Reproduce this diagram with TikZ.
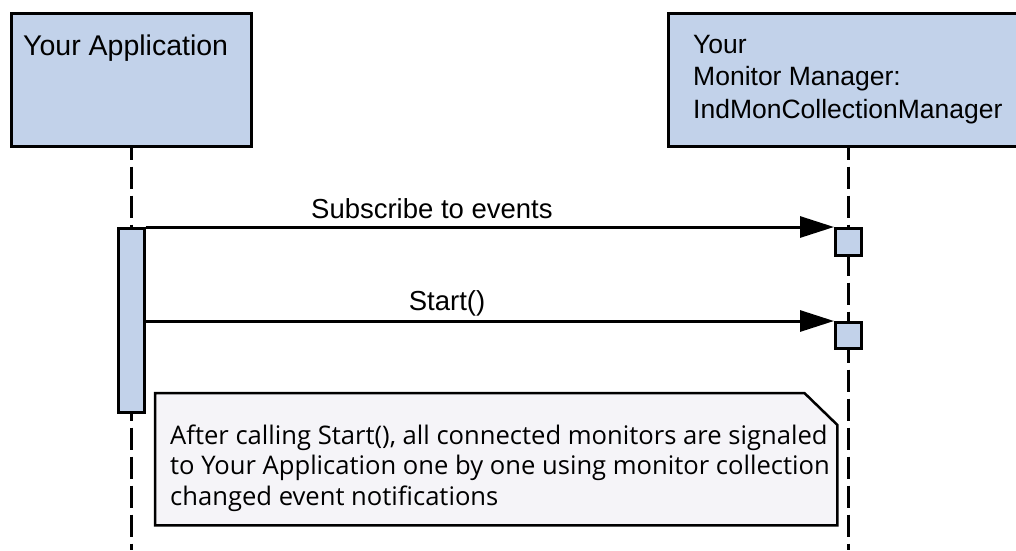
\documentclass[tikz,border=0pt]{standalone}
\usepackage{fontspec}
\setmainfont{Liberation Sans}
\newfontfamily\notefont{Open Sans}
\usetikzlibrary{arrows.meta,positioning,backgrounds}
\definecolor{headblue}{HTML}{C2D2EA}
\definecolor{notegray}{HTML}{F5F4F8}

\begin{document}
\begin{tikzpicture}[x=1pt, y=-1pt,
    head/.style={draw, line width=2.5pt, fill=headblue, rectangle, anchor=north west, inner sep=0pt},
    bar/.style={draw, line width=2.5pt, fill=headblue, rectangle, inner sep=0pt, minimum width=26pt, anchor=north},
    lifeline/.style={line width=3pt, dash pattern=on 22pt off 7pt, dash phase=10pt},
    msg/.style={line width=3pt, -{Triangle[length=34pt,width=21pt]}},
    lbl/.style={font=\fontsize{27.5}{32.5}\selectfont, inner sep=0pt, align=left}]
    \useasboundingbox (0,0) rectangle (1016,550);

    % lifeline heads
    \node[head, minimum width=240pt, minimum height=133pt] (app) at (10,12) {};
    \node[head, minimum width=360pt, minimum height=133pt] (mgr) at (667,12) {};
    \node[lbl, anchor=base west, font=\fontsize{28.5}{32.5}\selectfont] (applbl) at ([shift={(13,43)}]app.north west) {Your Application};
    \node[lbl, anchor=base west, font=\fontsize{26.5}{32.5}\selectfont] (mgrlbl) at ([shift={(26,106)}]mgr.north west) {Your\\Monitor Manager:\\IndMonCollectionManager};

    % message rows
    \coordinate (row1) at (0,227);
    \coordinate (row2) at (0,321);
    \coordinate (bottom) at (0,550);

    % lifelines
    \draw[lifeline] (app.south) -- (app.south |- bottom);
    \draw[lifeline] (mgr.south) -- (mgr.south |- bottom);

    % activations
    \node[bar, minimum height=184pt] (appact) at (app.south |- row1) {};
    \node[bar, minimum height=27pt] (mgrsub) at (mgr.south |- row1) {};
    \node[bar, minimum height=26pt] (mgrstart) at (mgr.south |- row2) {};

    % messages
    \draw[msg] (appact.north east) -- node[lbl, pos=0.416, anchor=base, yshift=9pt] {Subscribe to events} (mgrsub.north west);
    \draw[msg] (appact.east |- row2) -- node[lbl, pos=0.438, anchor=base, yshift=11pt] {Start()} (mgrstart.north west);

    % note
    \node[draw=none, anchor=north west, minimum width=682pt, minimum height=132pt, inner sep=0pt] (note) at (155,393) {};
    \node[anchor=west, inner sep=0pt, align=left, font=\notefont\fontsize{25.6}{30.5}\selectfont] (notetext) at ([shift={(15,9)}]note.west)
        {After calling Start(), all connected monitors are signaled\\to Your Application one by one using monitor collection\\changed event notifications};
    \begin{scope}[on background layer]
        \draw[line width=2.5pt, fill=notegray] (note.south west) -- (note.north west) -- ([xshift=-33pt]note.north east) -- ([yshift=-32pt]note.north east) -- (note.south east) -- cycle;
    \end{scope}
\end{tikzpicture}
\end{document}
